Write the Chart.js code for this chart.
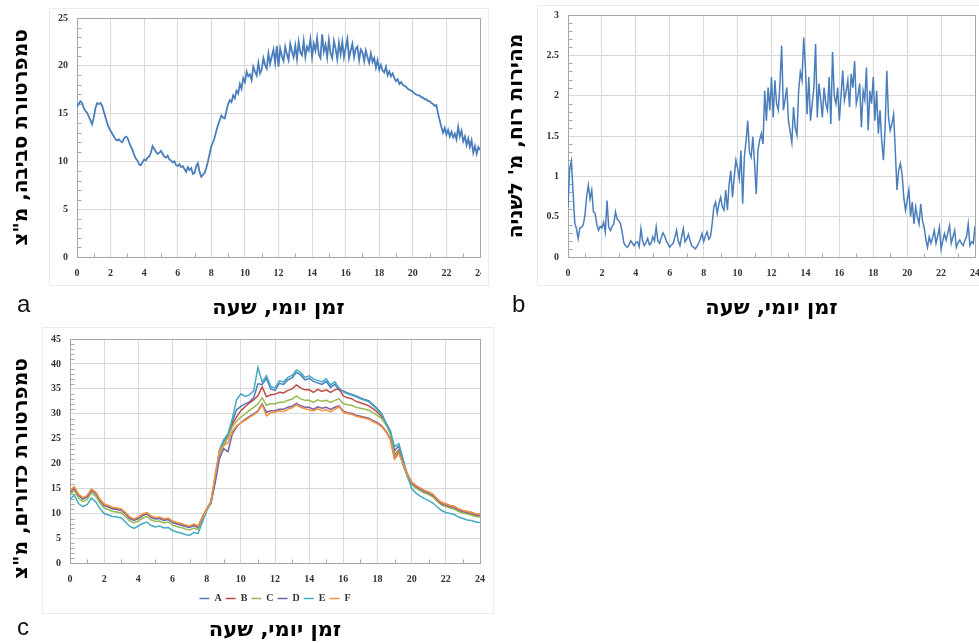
<!DOCTYPE html>
<html>
<head>
<meta charset="utf-8">
<script src="https://cdn.jsdelivr.net/npm/chart.js@4.4.0/dist/chart.umd.min.js"></script>
<style>
  html, body { margin: 0; padding: 0; background: #fff; }
  body { width: 979px; height: 643px; position: relative; overflow: hidden; }
  .panel { position: absolute; overflow: hidden; }
  .frame { position: absolute; border: 1px solid #ececec; box-sizing: border-box; }
  .tag { position: absolute; font-family: 'Liberation Sans', 'Open Sans', sans-serif; font-size: 24px; line-height: 28px; color: #111; }
</style>
</head>
<body>
<div class="frame" style="left:49px; top:8px; width:440px; height:278px;"></div>
<div class="frame" style="left:537px; top:5px; width:450px; height:281px;"></div>
<div class="frame" style="left:42px; top:327px; width:452px; height:287px;"></div>

<div class="panel" style="left:0; top:0; width:481px; height:321px;"><canvas id="chartA" width="500" height="321"></canvas></div>
<div class="panel" style="left:500px; top:0; width:479px; height:321px;"><canvas id="chartB" width="500" height="321"></canvas></div>
<div class="panel" style="left:0; top:320px; width:500px; height:323px;"><canvas id="chartC" width="500" height="323"></canvas></div>

<div class="tag" style="left:17px; top:290px;">a</div>
<div class="tag" style="left:512px; top:290px;">b</div>
<div class="tag" style="left:17px; top:613px;">c</div>

<script>
// time of day, hours (a and b every 6 min, c every 15 min)
const hoursAB = Array.from({length: 241}, (_, i) => i / 10);
const hoursC = Array.from({length: 97}, (_, i) => i / 4);

// a: ambient temperature, deg C
const ambientTemp = [
  15.7, 16.0, 16.3, 16.1, 15.6, 15.3, 15.1, 14.7, 14.3, 13.9,
  14.6, 15.6, 16.1, 16.0, 16.1, 15.8, 15.2, 14.6, 14.0, 13.5,
  13.2, 12.9, 12.6, 12.3, 12.2, 12.3, 12.1, 12.0, 12.4, 12.6,
  12.5, 12.0, 11.6, 11.2, 10.7, 10.3, 10.1, 9.7, 9.6, 9.9,
  10.2, 10.1, 10.4, 10.5, 10.9, 11.6, 11.3, 11.0, 10.8, 10.9,
  11.1, 10.8, 10.5, 10.4, 10.6, 10.2, 10.1, 9.9, 10.0, 9.6,
  9.5, 9.7, 9.4, 9.5, 9.2, 8.9, 9.4, 9.1, 9.3, 8.7,
  8.8, 9.5, 9.8, 8.9, 8.4, 8.6, 8.8, 9.3, 10.0, 10.8,
  11.6, 12.0, 12.5, 13.2, 13.8, 14.3, 14.8, 14.6, 14.5, 15.3,
  16.0, 16.4, 16.2, 16.9, 16.6, 17.4, 17.1, 18.1, 17.6, 18.7,
  18.3, 19.4, 18.9, 19.1, 18.5, 19.9, 19.4, 19.0, 20.3, 19.2,
  19.6, 20.8, 20.1, 19.7, 21.3, 20.2, 21.0, 21.7, 20.3, 22.1,
  19.9, 21.8, 21.0, 20.5, 22.0, 21.2, 20.6, 22.3, 21.5, 20.9,
  22.1, 20.7, 22.5, 21.4, 21.1, 22.6, 20.9, 22.0, 21.6, 22.8,
  20.9, 22.3, 21.6, 22.9, 21.2, 20.8, 23.3, 21.5, 22.2, 20.9,
  22.7, 21.3, 20.8, 22.6, 21.8, 20.7, 22.4, 21.2, 22.5, 20.9,
  21.9, 22.8, 20.8, 21.6, 22.3, 20.9, 21.8, 22.0, 20.6, 21.7,
  21.4, 20.5, 21.6, 20.9, 20.3, 21.3, 20.4, 20.8, 19.8, 20.6,
  19.6, 20.1, 19.5, 19.3, 19.9, 19.0, 19.4, 18.9, 19.2, 18.7,
  18.4, 18.6, 18.1, 18.3, 18.0, 17.9, 17.8, 17.6, 17.5, 17.4,
  17.3, 17.1, 17.0, 16.9, 16.9, 16.7, 16.7, 16.5, 16.5, 16.3,
  16.3, 16.1, 16.0, 15.8, 15.9, 15.0, 14.3, 13.6, 13.0, 13.5,
  12.8, 13.3, 12.6, 13.1, 12.5, 12.9, 12.3, 13.6, 12.6, 13.2,
  12.1, 12.6, 11.7, 12.4, 11.5, 12.2, 10.9, 11.6, 10.8, 11.5,
  11.2
];

// b: wind speed, m/s
const windSpeed = [
  0.62, 1.10, 1.19, 0.80, 0.42, 0.35, 0.23, 0.36, 0.37, 0.40,
  0.52, 0.75, 0.89, 0.72, 0.83, 0.56, 0.54, 0.40, 0.33, 0.38,
  0.36, 0.43, 0.31, 0.70, 0.37, 0.33, 0.38, 0.41, 0.56, 0.47,
  0.45, 0.41, 0.30, 0.17, 0.14, 0.12, 0.15, 0.20, 0.17, 0.14,
  0.18, 0.19, 0.13, 0.35, 0.20, 0.14, 0.18, 0.23, 0.15, 0.17,
  0.25, 0.20, 0.37, 0.20, 0.17, 0.24, 0.30, 0.26, 0.20, 0.16,
  0.12, 0.15, 0.17, 0.24, 0.33, 0.20, 0.14, 0.25, 0.35, 0.19,
  0.22, 0.28, 0.20, 0.14, 0.12, 0.10, 0.13, 0.17, 0.22, 0.29,
  0.19, 0.26, 0.31, 0.22, 0.25, 0.41, 0.62, 0.68, 0.54, 0.66,
  0.74, 0.62, 0.58, 0.83, 0.58, 0.90, 1.07, 0.74, 0.99, 1.20,
  1.10, 0.97, 1.32, 0.66, 1.24, 1.44, 1.69, 1.30, 1.24, 1.49,
  1.16, 0.78, 1.32, 1.45, 1.53, 1.40, 2.06, 1.69, 2.10, 1.82,
  2.23, 1.73, 2.19, 1.90, 1.82, 2.15, 2.62, 1.82, 1.95, 2.10,
  1.69, 1.55, 1.42, 1.86, 1.60, 1.51, 2.06, 2.29, 2.19, 2.72,
  2.35, 1.77, 2.23, 1.69, 1.90, 2.10, 2.64, 1.73, 2.15, 1.95,
  1.73, 2.10, 1.90, 1.82, 2.23, 1.65, 2.54, 2.00, 1.90, 2.10,
  1.69, 2.00, 2.31, 1.94, 2.05, 2.19, 1.86, 2.27, 2.10, 2.43,
  1.90, 2.00, 2.15, 1.61, 2.06, 1.95, 2.35, 1.57, 2.06, 1.90,
  2.23, 1.69, 2.06, 1.53, 1.82, 1.44, 1.20, 1.60, 2.31, 1.73,
  1.57, 1.65, 1.77, 1.32, 0.83, 1.07, 1.16, 1.03, 0.74, 0.58,
  0.70, 0.83, 0.50, 0.68, 0.41, 0.62, 0.50, 0.41, 0.66, 0.45,
  0.37, 0.22, 0.12, 0.25, 0.17, 0.24, 0.33, 0.17, 0.26, 0.37,
  0.10, 0.20, 0.29, 0.21, 0.30, 0.39, 0.17, 0.25, 0.33, 0.12,
  0.18, 0.21, 0.17, 0.14, 0.20, 0.25, 0.41, 0.14, 0.19, 0.17,
  0.38
];

// c: globe temperatures A..F, deg C
const globeA = [
  14.3, 15.1, 13.6, 12.9, 13.3, 14.6, 14.0, 12.6,
  11.6, 11.3, 10.9, 10.8, 10.6, 9.9, 9.0, 8.6,
  9.0, 9.6, 9.9, 9.2, 8.9, 9.0, 8.6, 8.8,
  8.2, 7.9, 7.7, 7.4, 7.2, 7.6, 7.2, 9.2,
  10.9, 12.3, 17.0, 22.5, 24.5, 25.8, 28.4, 30.8,
  31.5, 32.0, 32.4, 33.2, 36.0, 35.9, 37.1, 35.0,
  34.7, 36.1, 35.9, 36.8, 37.2, 38.3, 37.8, 36.8,
  37.1, 36.5, 36.2, 35.9, 36.5, 35.3, 35.9, 34.7,
  34.6, 34.2, 33.9, 33.6, 33.2, 32.9, 32.6, 31.8,
  31.0, 30.0, 28.2, 26.6, 22.6, 23.6, 20.6, 17.9,
  16.1, 15.4, 14.9, 14.4, 14.1, 13.6, 12.7, 12.0,
  11.7, 11.4, 11.2, 10.7, 10.4, 10.2, 10.0, 9.7,
  9.6
];
const globeB = [
  14.5, 15.3, 13.8, 13.1, 13.5, 14.8, 14.2, 12.8,
  11.8, 11.5, 11.1, 11.0, 10.8, 10.1, 9.2, 8.8,
  9.2, 9.8, 10.1, 9.4, 9.1, 9.2, 8.8, 9.0,
  8.4, 8.1, 7.9, 7.6, 7.4, 7.8, 7.4, 9.3,
  10.9, 12.4, 17.2, 22.0, 23.8, 25.3, 27.9, 29.4,
  30.6, 31.4, 32.2, 32.8, 33.6, 35.4, 33.4, 33.8,
  33.9, 34.3, 34.2, 34.7, 35.0, 35.8, 35.2, 34.8,
  34.8, 34.3, 34.9, 34.5, 34.8, 34.3, 34.8, 35.0,
  33.6, 33.2, 33.0, 32.5, 32.2, 31.9, 31.6, 31.0,
  30.3, 29.4, 28.0, 26.2, 21.8, 22.8, 20.2, 17.9,
  16.3, 15.6, 15.1, 14.6, 14.3, 13.8, 12.9, 12.2,
  11.9, 11.6, 11.4, 10.9, 10.6, 10.4, 10.2, 9.9,
  9.8
];
const globeC = [
  13.8, 14.6, 13.1, 12.4, 12.8, 14.1, 13.5, 12.1,
  11.1, 10.8, 10.4, 10.3, 10.1, 9.4, 8.5, 8.1,
  8.5, 9.1, 9.4, 8.7, 8.4, 8.5, 8.1, 8.3,
  7.7, 7.4, 7.2, 6.9, 6.7, 7.1, 6.8, 8.9,
  10.7, 12.1, 16.6, 21.8, 23.9, 25.3, 27.4, 28.5,
  29.3, 30.0, 30.7, 31.3, 32.0, 33.2, 31.7, 32.0,
  32.0, 32.3, 32.3, 32.7, 32.9, 33.6, 33.0, 32.7,
  32.7, 32.3, 32.8, 32.5, 32.7, 32.3, 32.7, 33.0,
  32.0, 31.8, 31.7, 31.3, 31.1, 30.9, 30.7, 30.2,
  29.7, 29.0, 27.8, 25.9, 21.6, 22.6, 19.8, 17.4,
  15.8, 15.1, 14.6, 14.1, 13.8, 13.3, 12.4, 11.7,
  11.4, 11.1, 10.9, 10.4, 10.1, 9.9, 9.7, 9.4,
  9.3
];
const globeD = [
  14.4, 15.0, 13.7, 13.0, 13.4, 14.6, 14.1, 12.7,
  11.7, 11.4, 11.0, 10.9, 10.7, 10.0, 9.1, 8.7,
  9.1, 9.7, 10.0, 9.3, 9.0, 9.1, 8.7, 8.9,
  8.3, 8.0, 7.8, 7.5, 7.3, 7.7, 7.3, 9.0,
  10.8, 12.0, 16.2, 21.0, 23.0, 22.4, 26.0, 27.4,
  28.2, 28.9, 29.5, 30.0, 30.6, 32.0, 30.3, 30.6,
  30.6, 30.9, 30.9, 31.3, 31.5, 32.1, 31.6, 31.3,
  31.3, 30.9, 31.4, 31.1, 31.3, 30.9, 31.3, 31.6,
  30.5, 30.2, 30.1, 29.7, 29.5, 29.3, 29.1, 28.6,
  28.2, 27.6, 26.5, 25.0, 21.0, 22.3, 19.8, 17.6,
  16.1, 15.4, 14.9, 14.4, 14.1, 13.6, 12.7, 12.0,
  11.7, 11.4, 11.2, 10.7, 10.4, 10.2, 10.0, 9.7,
  9.6
];
const globeE = [
  12.8, 13.7, 12.0, 11.4, 11.8, 13.1, 12.4, 11.0,
  10.0, 9.7, 9.4, 9.3, 9.1, 8.3, 7.4, 7.0,
  7.5, 8.0, 8.3, 7.6, 7.3, 7.5, 7.1, 7.2,
  6.6, 6.3, 6.1, 5.8, 5.6, 6.2, 6.0, 8.3,
  10.5, 12.3, 17.5, 22.8, 24.8, 26.0, 29.0, 32.8,
  34.0, 33.5, 33.8, 34.6, 39.3, 36.4, 37.6, 35.5,
  35.2, 36.6, 36.4, 37.3, 37.7, 38.8, 38.3, 37.3,
  37.6, 37.0, 36.7, 36.4, 37.0, 35.8, 36.4, 35.2,
  34.4, 34.0, 33.7, 33.4, 33.0, 32.7, 32.4, 31.6,
  30.8, 29.8, 28.0, 26.5, 23.4, 24.0, 21.0, 17.5,
  15.0, 14.1, 13.5, 13.0, 12.6, 12.1, 11.3, 10.6,
  10.2, 10.0, 9.8, 9.3, 9.0, 8.7, 8.6, 8.3,
  8.2
];
const globeF = [
  14.6, 15.4, 13.9, 13.2, 13.6, 14.9, 14.3, 12.9,
  11.9, 11.6, 11.2, 11.1, 10.9, 10.2, 9.3, 8.9,
  9.3, 9.9, 10.2, 9.5, 9.2, 9.3, 8.9, 9.1,
  8.5, 8.2, 8.0, 7.7, 7.5, 7.9, 7.5, 9.1,
  10.8, 12.5, 17.8, 22.6, 23.6, 24.2, 26.5, 27.6,
  28.2, 28.7, 29.3, 29.8, 30.4, 31.8, 29.6, 30.2,
  30.3, 30.6, 30.4, 30.9, 31.2, 31.8, 31.3, 31.0,
  30.8, 30.6, 31.0, 30.6, 30.8, 30.4, 30.9, 31.4,
  30.3, 30.0, 29.9, 29.5, 29.3, 29.1, 28.9, 28.4,
  28.0, 27.4, 26.3, 24.8, 20.9, 22.1, 19.9, 17.9,
  16.3, 15.6, 15.1, 14.6, 14.3, 13.8, 12.9, 12.2,
  11.9, 11.6, 11.4, 10.9, 10.6, 10.4, 10.2, 9.9,
  9.8
];

const globeNames = ['A', 'B', 'C', 'D', 'E', 'F'];
const globeColors = ['#4a7ebb', '#be4b48', '#98b954', '#7d60a0', '#46aac5', '#f69240'];

const xTitle = 'זמן יומי, שעה';
const yTitleA = 'טמפרטורת סביבה, מ"צ';
const yTitleB = "מהירות רוח, מ' לשניה";
const yTitleC = 'טמפרטורת כדורים, מ"צ';

const SERIF = "'Liberation Serif', Tinos, 'DejaVu Serif', serif";
const HEB = "'DejaVu Sans', 'Liberation Sans', sans-serif";
const GRID = '#d9d9d9';
const FRAME = '#a6a6a6';

function pts(hours, vals) {
    return vals.map((v, i) => ({x: hours[i], y: v}));
}

// plot frame + small minor tick marks like excel
const plotFrame = {
    id: 'plotFrame',
    beforeDatasetsDraw(chart, args, opts) {
        const {ctx, chartArea: ca, scales: {x, y}} = chart;
        const L = Math.round(ca.left) + 0.5, R = Math.round(ca.right) + 0.5;
        const T = Math.round(ca.top) + 0.5, B = Math.round(ca.bottom) + 0.5;
        ctx.save();
        ctx.strokeStyle = FRAME;
        ctx.lineWidth = 1;
        ctx.strokeRect(L, T, R - L, B - T);
        ctx.beginPath();
        const n = Math.round((y.max - y.min) / opts.minor);
        const every = Math.round(opts.major / opts.minor);
        for (let k = 1; k < n; k++) {
            if (k % every === 0) continue;
            const py = Math.round(y.getPixelForValue(y.min + k * opts.minor)) + 0.5;
            ctx.moveTo(L, py); ctx.lineTo(L + 4, py);
        }
        for (let h = 1; h < 24; h += 2) {
            const px = Math.round(x.getPixelForValue(h)) + 0.5;
            ctx.moveTo(px, B); ctx.lineTo(px, B - 4);
        }
        ctx.stroke();
        ctx.restore();
    }
};

function tickFont() {
    return {family: SERIF, size: 10, weight: 'bold'};
}
function titleFont(size) {
    return {family: HEB, size: size, weight: 'bold'};
}

function xAxis(height, title) {
    return {
        type: 'linear', min: 0, max: 24,
        afterFit: s => { s.height = height; },
        grid: {color: GRID, drawTicks: false},
        border: {display: false},
        ticks: {stepSize: 2, padding: 10, color: '#333', font: tickFont(), maxRotation: 0, autoSkip: false},
        title: title ? {display: true, text: title, color: '#000', font: titleFont(21), padding: {top: 0, bottom: 0}} : {display: false}
    };
}

function yAxis(max, step, width, title, titlePad) {
    return {
        min: 0, max: max,
        afterFit: s => { s.width = width; },
        grid: {color: GRID, drawTicks: false},
        border: {display: false},
        ticks: {stepSize: step, padding: 9, color: '#333', font: tickFont(), callback: v => String(v)},
        title: {display: true, text: title, color: '#000', font: titleFont(20), padding: {top: titlePad, bottom: 0}}
    };
}

Chart.defaults.animation = false;
Chart.defaults.responsive = false;
Chart.defaults.elements.point.radius = 0;
Chart.defaults.elements.line.tension = 0;

new Chart(document.getElementById('chartA'), {
    type: 'line',
    data: {datasets: [{data: pts(hoursAB, ambientTemp), borderColor: '#4a7ebb', borderWidth: 1.8}]},
    options: {
        layout: {padding: {left: 0, top: 18, right: 20, bottom: 0}},
        plugins: {legend: {display: false}, tooltip: {enabled: false}, plotFrame: {minor: 1, major: 5}},
        scales: {x: xAxis(64, xTitle), y: yAxis(25, 5, 77, yTitleA, 10)}
    },
    plugins: [plotFrame]
});

new Chart(document.getElementById('chartB'), {
    type: 'line',
    data: {datasets: [{data: pts(hoursAB, windSpeed), borderColor: '#4a7ebb', borderWidth: 1.5}]},
    options: {
        layout: {padding: {left: 0, top: 14, right: 25, bottom: 0}},
        plugins: {legend: {display: false}, tooltip: {enabled: false}, plotFrame: {minor: 0.1, major: 0.5}},
        scales: {x: xAxis(64, xTitle), y: yAxis(3, 0.5, 68, yTitleB, 4.5)}
    },
    plugins: [plotFrame]
});

const globeSeries = [globeA, globeB, globeC, globeD, globeE, globeF];
new Chart(document.getElementById('chartC'), {
    type: 'line',
    data: {
        datasets: globeSeries.map((vals, i) => ({
            label: globeNames[i],
            data: pts(hoursC, vals),
            borderColor: globeColors[i],
            backgroundColor: globeColors[i],
            borderWidth: 1.5,
            order: 6 - i
        }))
    },
    options: {
        layout: {padding: {left: 0, top: 19, right: 20, bottom: 0}},
        plugins: {
            tooltip: {enabled: false},
            plotFrame: {minor: 1, major: 5},
            legend: {
                display: true, position: 'bottom', fullSize: false,
                labels: {usePointStyle: true, pointStyle: 'line', pointStyleWidth: 10, boxHeight: 10,
                         padding: 4, color: '#333', font: tickFont(),
                         sort: (a, b) => a.datasetIndex - b.datasetIndex}
            },
            title: {
                display: true, position: 'bottom', fullSize: false, text: xTitle,
                color: '#000', font: titleFont(21), padding: {top: 4.4, bottom: 0}
            }
        },
        scales: {
            x: xAxis(26, null),
            y: yAxis(45, 5, 70, yTitleC + '\u00a0\u00a0\u00a0\u00a0\u00a0', 10)
        }
    },
    plugins: [plotFrame]
});
</script>
</body>
</html>
